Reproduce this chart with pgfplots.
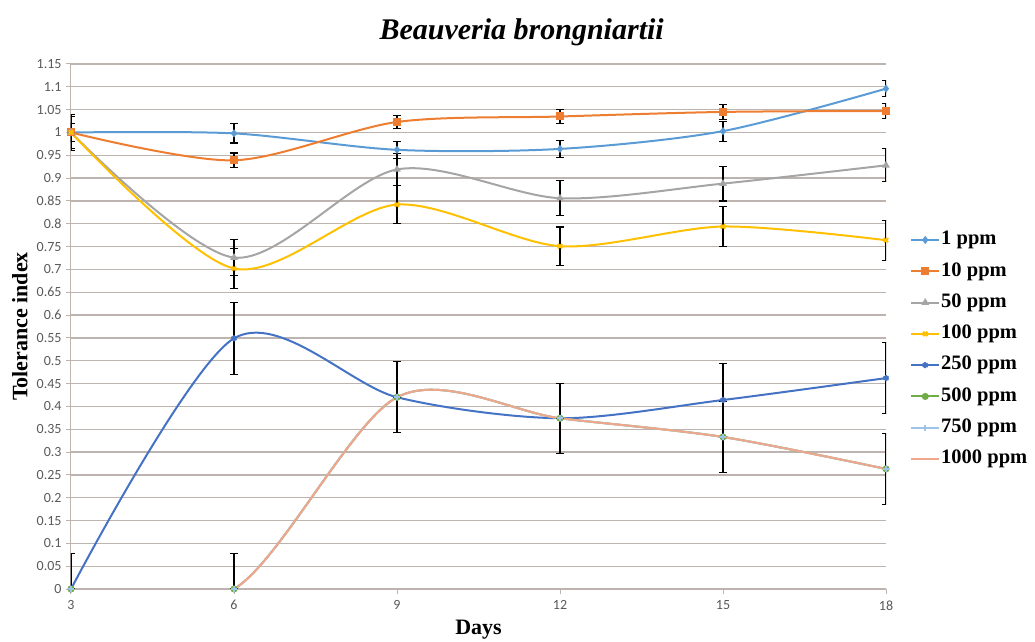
\documentclass[border=0pt]{standalone}
\usepackage{fontspec}
\setmainfont{Liberation Serif}
\newfontfamily\tickfont{Carlito}
\usepackage{pgfplots}
\pgfplotsset{compat=1.18}
\definecolor{cA}{HTML}{5B9BD5}
\definecolor{cB}{HTML}{ED7D31}
\definecolor{cC}{HTML}{A5A5A5}
\definecolor{cD}{HTML}{FFC000}
\definecolor{cE}{HTML}{4472C4}
\definecolor{cF}{HTML}{70AD47}
\definecolor{cG}{HTML}{9DC3E6}
\definecolor{cH}{HTML}{EFA78C}
\definecolor{gridc}{HTML}{BEB4AF}
\definecolor{tickc}{HTML}{595959}
\begin{document}
\begin{tikzpicture}
\path[use as bounding box] (-71bp,-53bp) rectangle (964bp,589bp);
\begin{axis}[
  at={(0,0)}, anchor=south west, scale only axis,
  width=815bp, height=525bp,
  xmin=3, xmax=18, ymin=0, ymax=1.15,
  xtick={3,6,9,12,15,18},
  ytick={0,0.05,0.1,0.15,0.2,0.25,0.3,0.35,0.4,0.45,0.5,0.55,0.6,0.65,0.7,0.75,0.8,0.85,0.9,0.95,1,1.05,1.1,1.15},
  axis x line*=bottom, axis y line*=left,
  axis line style={gridc, line width=1bp},
  tick align=outside, major tick length=5bp,
  tick style={gridc, line width=1bp},
  ymajorgrids, grid style={gridc, line width=1.3bp},
  ticklabel style={font=\tickfont\fontsize{14bp}{14bp}\selectfont, text=tickc},
  /pgf/number format/assume math mode=true,
  yticklabel style={/pgf/number format/fixed, /pgf/number format/precision=2, xshift=-1bp},
  xticklabel style={yshift=-3bp},
  title={Beauveria brongniartii},
  title style={at={(rel axis cs:0.553,1.036)}, anchor=base, font=\bfseries\itshape\fontsize{30bp}{30bp}\selectfont},
  xlabel={Days}, ylabel={Tolerance index},
  label style={font=\bfseries\fontsize{22bp}{22bp}\selectfont},
  xlabel style={at={(rel axis cs:0.5,-0.078)}, anchor=center},
  ylabel style={at={(rel axis cs:-0.0626,0.5)}, anchor=center},
  legend style={at={(rel axis cs:1.0295,0.695)}, anchor=north west, draw=none, fill=none, inner sep=0pt,
    font=\bfseries\fontsize{20.5bp}{20.5bp}\selectfont,
    nodes={text height=14bp, text depth=4.5bp, inner ysep=6.4bp, inner xsep=1bp}, row sep=0pt},
  legend cell align=left,
  legend image code/.code={\draw[mark repeat=2,mark phase=2] plot coordinates {(0bp,0bp) (14bp,0bp) (28bp,0bp)};},
  every axis plot/.append style={line width=2bp, smooth, tension=0.5},
  error bars/y dir=both, error bars/y explicit,
  error bars/error bar style={black, line width=1.1bp, solid},
  error bars/error mark options={rotate=90, mark size=4bp, black, line width=1.1bp},
]
\addplot[cA, mark=diamond*, mark size=2.5bp, mark options={solid}] coordinates {
 (3,1.0) +- (0,0.04) (6,0.998) +- (0,0.021) (9,0.962) +- (0,0.019)
 (12,0.964) +- (0,0.018) (15,1.003) +- (0,0.022) (18,1.096) +- (0,0.017)};
\addlegendentry{1 ppm}
\addplot[cB, mark=square*, mark size=3bp] coordinates {
 (3,1.0) +- (0,0.035) (6,0.939) +- (0,0.016) (9,1.023) +- (0,0.015)
 (12,1.035) +- (0,0.015) (15,1.045) +- (0,0.017) (18,1.047) +- (0,0.016)};
\addlegendentry{10 ppm}
\addplot[cC, mark=triangle*, mark size=2.5bp] coordinates {
 (3,1.0) +- (0,0.02) (6,0.726) +- (0,0.04) (9,0.919) +- (0,0.035)
 (12,0.856) +- (0,0.038) (15,0.888) +- (0,0.038) (18,0.928) +- (0,0.036)};
\addlegendentry{50 ppm}
\addplot[cD, mark=x, mark size=3bp] coordinates {
 (3,1.0) +- (0,0.02) (6,0.702) +- (0,0.043) (9,0.842) +- (0,0.042)
 (12,0.751) +- (0,0.042) (15,0.794) +- (0,0.043) (18,0.764) +- (0,0.044)};
\addlegendentry{100 ppm}
\addplot[cE, mark=asterisk, mark size=3bp] coordinates {
 (3,0) += (0,0.077) -= (0,0) (6,0.549) +- (0,0.079) (9,0.42) +- (0,0.078)
 (12,0.374) +- (0,0.077) (15,0.414) +- (0,0.08) (18,0.462) +- (0,0.078)};
\addlegendentry{250 ppm}
\addplot[cF, mark=*, mark size=2.5bp, error bars/y dir=none] coordinates {
 (3,0) (6,0) (9,0.42) (12,0.374) (15,0.333) (18,0.263)};
\addlegendentry{500 ppm}
\addplot[cG, mark=+, mark size=3bp, error bars/y dir=none] coordinates {
 (3,0) (6,0) (9,0.42) (12,0.374) (15,0.333) (18,0.263)};
\addlegendentry{750 ppm}
\addplot[cH, no markers] coordinates {
 (3,0) += (0,0.077) -= (0,0) (6,0) += (0,0.077) -= (0,0) (9,0.42) +- (0,0)
 (12,0.374) +- (0,0) (15,0.333) +- (0,0.077) (18,0.263) +- (0,0.077)};
\addlegendentry{1000 ppm}
\end{axis}
\end{tikzpicture}
\end{document}
